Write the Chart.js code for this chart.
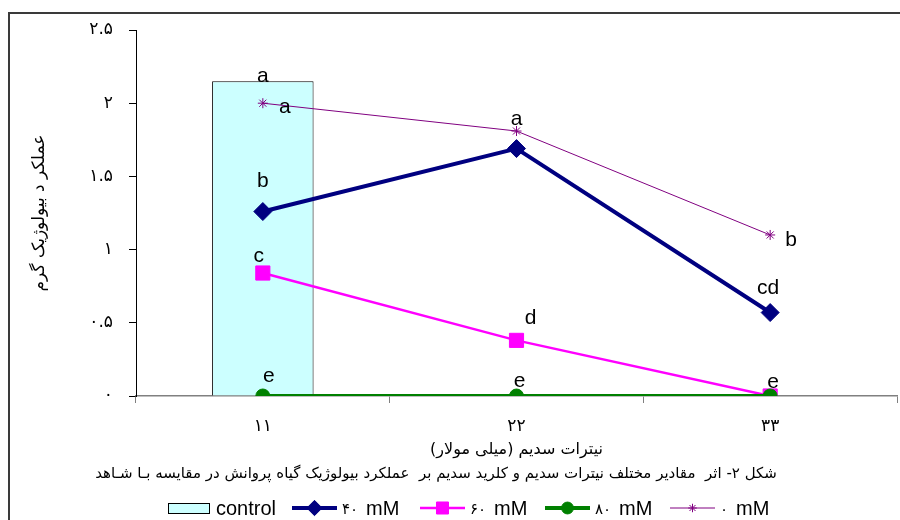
<!DOCTYPE html>
<html lang="fa">
<head>
<meta charset="utf-8">
<title>عملکرد بیولوژیک</title>
<script src="https://cdn.jsdelivr.net/npm/chart.js@4.4.1/dist/chart.umd.min.js"></script>
<style>
    html, body { margin: 0; padding: 0; background: #fff; }
    #wrap { width: 900px; height: 520px; position: relative; }
</style>
</head>
<body>
<div id="wrap"><canvas id="grafico"></canvas></div>
<script>
// ============================================
// DADOS
// ============================================
const categorias = ['۱۱', '۲۲', '۳۳'];
const ticksY = ['۰', '۰.۵', '۱', '۱.۵', '۲', '۲.۵'];

const controle = [2.15, null, null];
const serie40 = [1.26, 1.69, 0.57];
const serie60 = [0.84, 0.38, 0];
const serie80 = [0, 0, 0];
const serie0 = [2.0, 1.81, 1.1];

// letras de significância
const letrasControle = ['a', '', ''];
const letras40 = ['b', '', 'cd'];
const letras60 = ['c', 'd', ''];
const letras80 = ['e', 'e', 'e'];
const letras0 = ['a', 'a', 'b'];

const fonteFa = 'DejaVu Sans';
const fonteLat = 'Liberation Sans';

// ============================================
// PLUGINS
// ============================================

// moldura (linha superior e esquerda)
const moldura = {
    id: 'moldura',
    beforeDraw(chart) {
        const ctx = chart.ctx;
        ctx.save();
        ctx.strokeStyle = '#3a3a3a';
        ctx.lineWidth = 2;
        ctx.beginPath();
        ctx.moveTo(900, 13);
        ctx.lineTo(9, 13);
        ctx.lineTo(9, 520);
        ctx.stroke();
        ctx.restore();
    }
};

// letras sobre os pontos
const letras = {
    id: 'letras',
    afterDatasetsDraw(chart) {
        const ctx = chart.ctx;
        ctx.save();
        ctx.font = '21px "' + fonteLat + '"';
        ctx.fillStyle = '#000';
        ctx.textAlign = 'center';
        ctx.textBaseline = 'alphabetic';
        chart.data.datasets.forEach((ds, i) => {
            const meta = chart.getDatasetMeta(i);
            ds.letras.forEach((txt, j) => {
                if (!txt) return;
                const el = meta.data[j];
                const d = ds.deslocamento[j];
                ctx.fillText(txt, el.x + d[0], el.y + d[1]);
            });
        });
        ctx.restore();
    }
};

// legenda e legenda da figura
const legendaPropia = {
    id: 'legendaPropia',
    afterDraw(chart) {
        const ctx = chart.ctx;
        const inicio = [168, 292, 420, 545, 670];
        const y = 508;
        ctx.save();

        // legenda da figura
        ctx.direction = 'rtl';
        ctx.textAlign = 'center';
        ctx.textBaseline = 'middle';
        ctx.fillStyle = '#000';
        ctx.font = '15px "' + fonteFa + '"';
        ctx.fillText('شکل ۲- اثر  مقادیر مختلف نیترات سدیم و کلرید سدیم بر  عملکرد بیولوژیک گیاه پروانش در مقایسه بـا شـاهد', 436, 474);
        ctx.direction = 'ltr';

        chart.data.datasets.forEach((ds, i) => {
            const x = inicio[i];
            ctx.textAlign = 'left';
            ctx.textBaseline = 'middle';
            if (ds.type === 'bar') {
                ctx.fillStyle = ds.backgroundColor;
                ctx.strokeStyle = '#000';
                ctx.lineWidth = 1;
                ctx.fillRect(x, y - 5, 42, 11);
                ctx.strokeRect(x + 0.5, y - 4.5, 41, 10);
                ctx.fillStyle = '#000';
                ctx.font = '20px "' + fonteLat + '"';
                ctx.fillText(ds.label, x + 48, y + 1);
                return;
            }
            ctx.strokeStyle = ds.borderColor;
            ctx.lineWidth = ds.borderWidth;
            ctx.beginPath();
            ctx.moveTo(x, y);
            ctx.lineTo(x + 45, y);
            ctx.stroke();
            ctx.fillStyle = ds.pointBackgroundColor;
            ctx.strokeStyle = ds.pointBorderColor;
            ctx.lineWidth = ds.pointBorderWidth;
            Chart.helpers.drawPoint(ctx, {
                pointStyle: ds.pointStyle,
                radius: ds.pointRadius * 0.85,
                borderWidth: ds.pointBorderWidth,
                rotation: 0
            }, x + 22.5, y);

            const partes = ds.label.split(' ');
            ctx.fillStyle = '#000';
            ctx.font = '15px "' + fonteFa + '"';
            ctx.fillText(partes[0], x + 50, y + 2);
            const w = ctx.measureText(partes[0]).width;
            ctx.font = '20px "' + fonteLat + '"';
            ctx.fillText(partes[1], x + 50 + w + 8, y + 1);
        });
        ctx.restore();
    }
};

// ============================================
// GRÁFICO
// ============================================
const ctx = document.getElementById('grafico').getContext('2d');

new Chart(ctx, {
    type: 'bar',
    data: {
        labels: categorias,
        datasets: [
            {
                type: 'bar',
                label: 'control',
                data: controle,
                backgroundColor: '#CCFFFF',
                borderColor: '#000',
                borderWidth: 1,
                barPercentage: 1,
                categoryPercentage: 0.4,
                order: 10,
                letras: letrasControle,
                deslocamento: [[0, 1], [0, 0], [0, 0]]
            },
            {
                type: 'line',
                label: '۴۰ mM',
                data: serie40,
                borderColor: '#000080',
                borderWidth: 4,
                pointStyle: 'rectRot',
                pointRadius: 9,
                pointBackgroundColor: '#000080',
                pointBorderColor: '#000080',
                pointBorderWidth: 1,
                order: 3,
                letras: letras40,
                deslocamento: [[0, -25], [0, 0], [-2, -19]]
            },
            {
                type: 'line',
                label: '۶۰ mM',
                data: serie60,
                borderColor: '#FF00FF',
                borderWidth: 2.5,
                pointStyle: 'rect',
                pointRadius: 10,
                pointBackgroundColor: '#FF00FF',
                pointBorderColor: '#FF00FF',
                pointBorderWidth: 1,
                order: 4,
                letras: letras60,
                deslocamento: [[-4, -11], [14, -16], [0, 0]]
            },
            {
                type: 'line',
                label: '۸۰ mM',
                data: serie80,
                borderColor: '#008000',
                borderWidth: 4,
                pointStyle: 'circle',
                pointRadius: 7,
                pointBackgroundColor: '#008000',
                pointBorderColor: '#008000',
                pointBorderWidth: 1,
                order: 2,
                letras: letras80,
                deslocamento: [[6, -14], [3, -9], [3, -8]]
            },
            {
                type: 'line',
                label: '۰ mM',
                data: serie0,
                borderColor: '#800080',
                borderWidth: 1,
                pointStyle: 'star',
                pointRadius: 5,
                pointBackgroundColor: '#800080',
                pointBorderColor: '#800080',
                pointBorderWidth: 1,
                order: 5,
                letras: letras0,
                deslocamento: [[22, 10], [0, -6], [21, 11]]
            }
        ]
    },
    options: {
        responsive: true,
        maintainAspectRatio: false,
        animation: false,
        layout: {
            autoPadding: false,
            padding: { left: 0, right: 3, top: 30, bottom: 0 }
        },
        plugins: {
            legend: { display: false },
            tooltip: { enabled: false }
        },
        scales: {
            x: {
                offset: true,
                grid: {
                    offset: true,
                    drawOnChartArea: false,
                    tickLength: 7,
                    color: '#808080'
                },
                border: { color: '#808080', width: 1.5 },
                ticks: {
                    color: '#000',
                    padding: 13,
                    font: { family: fonteFa, size: 17 }
                },
                title: {
                    display: true,
                    text: 'نیترات سدیم (میلی مولار)',
                    color: '#000',
                    font: { family: fonteFa, size: 16 },
                    padding: { top: 0, bottom: 61 }
                },
                afterFit: function(scale) {
                    scale.height = 124;
                }
            },
            y: {
                min: 0,
                max: 2.5,
                grid: {
                    drawOnChartArea: false,
                    tickLength: 7,
                    color: '#000'
                },
                border: { color: '#000', width: 1 },
                ticks: {
                    stepSize: 0.5,
                    color: '#000',
                    padding: 16,
                    font: { family: fonteFa, size: 17 },
                    callback: function(value, index) {
                        return ticksY[index];
                    }
                },
                title: {
                    display: true,
                    text: 'عملکر د بیولوژیک گرم',
                    color: '#000',
                    font: { family: fonteFa, size: 17 },
                    padding: { top: 29, bottom: 0 }
                },
                afterFit: function(scale) {
                    scale.width = 136;
                }
            }
        }
    },
    plugins: [moldura, letras, legendaPropia]
});
</script>
</body>
</html>
